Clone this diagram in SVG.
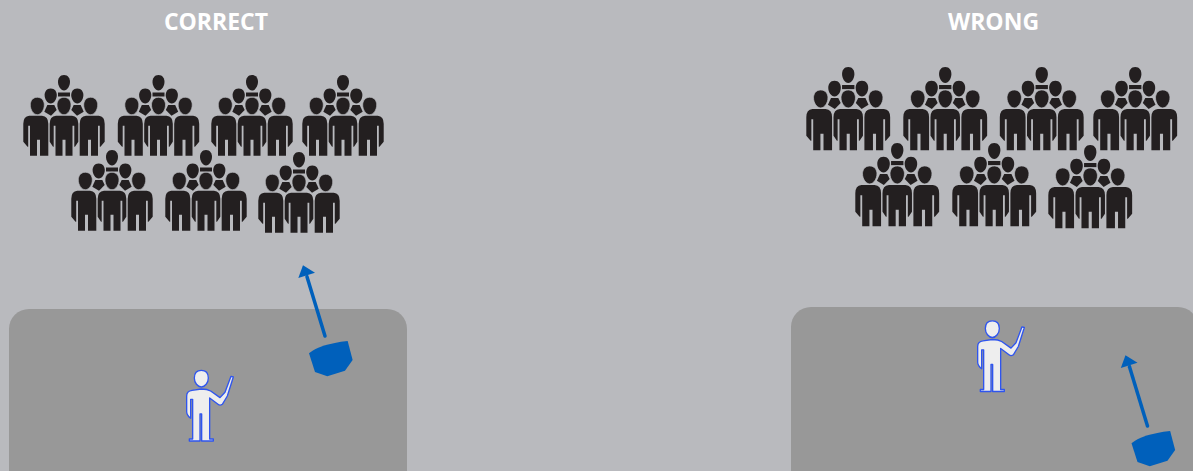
<svg xmlns="http://www.w3.org/2000/svg" width="1193" height="471" viewBox="0 0 1193 471">
<style>
.title{font-family:"Open Sans","Liberation Sans",sans-serif;font-weight:700;font-size:23px;fill:#fff;text-anchor:middle}
.panel{fill:#989898}
.ink{fill:#231f20}
.halo{stroke:#b9babe;stroke-width:.7}
.skin{fill:#eeeeee;stroke:#2f55ee;stroke-width:4;stroke-linejoin:round}
.blue{fill:#0060bb}
.ray{stroke:#0060bb;stroke-width:10.500;stroke-linecap:round;fill:none}
</style>
<defs>
<path id="head" vector-effect="non-scaling-stroke" d="M0,-1C.7,-1 1,-.55 1,-.12C1,.42 .55,1 0,1C-.55,1 -1,.42 -1,-.12C-1,-.55 -.7,-1 0,-1Z"/>
<g id="crowd" class="ink">
<use href="#head" transform="translate(41 7.800) scale(6 7.800)"/>
<use href="#head" transform="translate(27.700 21) scale(6.100 7.600)"/>
<use href="#head" transform="translate(54.300 21) scale(6.100 7.600)"/>
<path d="M35,17.500H47V21.500H35Z"/>
<path d="M24.300,30H31.300L33.700,35L28,40.700L21.300,36.700Z"/>
<path d="M57.700,30H50.700L48.300,35L54,40.700L60.700,36.700Z"/>
<g class="halo">
<use href="#head" transform="translate(14.300 31) scale(7 8.700)"/>
<use href="#head" transform="translate(41 31) scale(7 8.700)"/>
<use href="#head" transform="translate(67.700 31) scale(7 8.700)"/>
</g>
<path d="M33,40.700H49Q55.300,41.200 55.300,48.700V66.700L52,71.700H51.300V50.700H49.500V80.800H42.500V64.700H39.500V80.800H32.500V50.700H30.700V71.700H30L26.700,66.700V48.700Q26.700,41.200 33,40.700Z"/>
<path d="M6.300,40.700H19Q25.300,41.200 25.300,48.700V80.800H17V64.700H14V80.800H7V50.700H5.200V71.700H4.500L.3,66.700V48.700Q.3,41.200 6.300,40.700Z"/>
<path d="M75.700,40.700H63Q56.700,41.200 56.700,48.700V80.800H65V64.700H68V80.800H75V50.700H76.800V71.700H77.500L81.700,66.700V48.700Q81.700,41.200 75.700,40.700Z"/>
</g>
<g id="teacher">
<path class="skin" d="M94,331C108,331 115,341 115,354C115,368 105,381 94,381C83,381 73,368 73,354C73,341 80,331 94,331Z"/>
<path class="skin" d="M94,387Q112,387 122,393L150,413L165,397L183,349L190,351L172,408L157,433Q150,438 144,433L119,414V537H130V543H95V462H90V543H58V537H68V418H62V475Q50,465 50,455V408Q50,393 66,391Z"/>
</g>
<g id="speaker-shape">
<path class="blue" d="M417,280Q450,252 533,243L548,300L525,332L472,349L435,336Z"/>
<path class="ray" d="M465,228L411,50"/>
<path class="blue" d="M399,16L435,38L385,54Z"/>
</g>
</defs>
<rect width="1193" height="471" fill="#b9babe"/>
<rect id="stage-correct" class="panel" x="9" y="309" width="398" height="190" rx="20"/>
<rect id="stage-wrong" class="panel" x="791" y="307" width="407" height="190" rx="20"/>
<text id="title-correct" class="title" x="216" y="30">CORRECT</text>
<text id="title-wrong" class="title" x="993.500" y="30">WRONG</text>
<g id="crowds-correct">
<use href="#crowd" x="23" y="75"/>
<use href="#crowd" x="117.500" y="75"/>
<use href="#crowd" x="211" y="75"/>
<use href="#crowd" x="302" y="75"/>
<use href="#crowd" x="71" y="150"/>
<use href="#crowd" x="165" y="150"/>
<use href="#crowd" x="258" y="152"/>
</g>
<g id="crowds-wrong">
<use href="#crowd" transform="translate(806 67) scale(1.03)"/>
<use href="#crowd" transform="translate(903 67) scale(1.03)"/>
<use href="#crowd" transform="translate(999.500 67) scale(1.03)"/>
<use href="#crowd" transform="translate(1093 67) scale(1.03)"/>
<use href="#crowd" transform="translate(855 143) scale(1.03)"/>
<use href="#crowd" transform="translate(952 143) scale(1.03)"/>
<use href="#crowd" transform="translate(1048 145) scale(1.03)"/>
</g>
<g id="teacher-correct" transform="translate(170 260) scale(.3333)"><use href="#teacher"/></g>
<g id="teacher-wrong" transform="translate(961 210.500) scale(.3333)"><use href="#teacher"/></g>
<g id="connectors">
<g id="speaker-correct" transform="translate(170 260) scale(.3333)"><use href="#speaker-shape"/></g>
<g id="speaker-wrong" transform="translate(992.500 350) scale(.3333)"><use href="#speaker-shape"/></g>
</g>
</svg>
